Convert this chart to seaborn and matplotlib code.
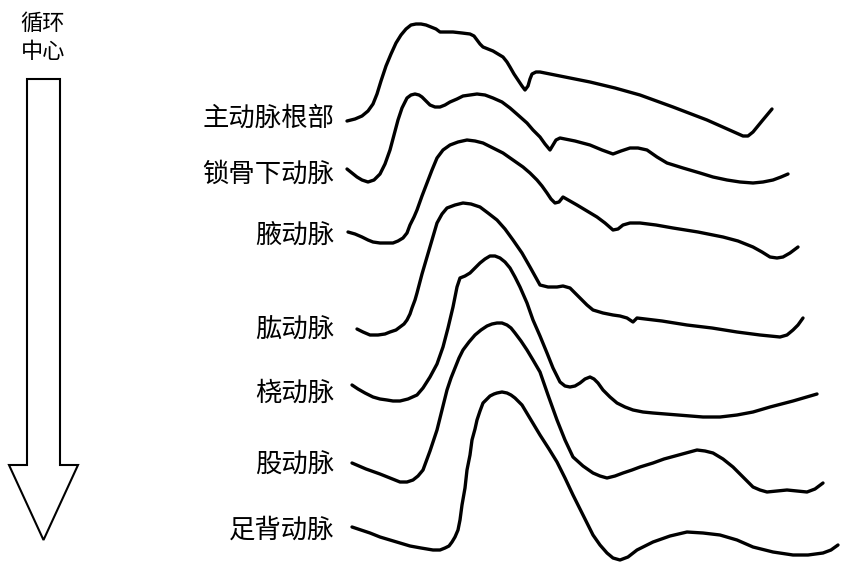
import pandas as pd
import matplotlib.pyplot as plt
import matplotlib.patches as mpatches
import seaborn as sns

# traced pulse waveforms (x, y in picture pixels, y grows downward)
aorta_x = [347, 355, 362, 368, 373, 377, 381, 386, 391, 396, 401, 406, 411, 416, 421, 426, 431, 436, 440, 447, 453, 462, 470, 474, 477, 480, 483, 488, 493, 498, 503, 507, 510, 514, 518, 522, 525, 528, 530, 532, 536, 540, 565, 590, 615, 640, 673, 707, 725, 743, 748, 753, 762, 772]
aorta_y = [121, 119, 116, 111, 104, 94, 81, 66, 54, 43, 35, 29, 25, 24, 24, 25, 27, 29, 32, 32, 32, 33, 34, 36, 40, 44, 47, 49, 51, 54, 57, 62, 67, 74, 80, 86, 90, 86, 79, 74, 72, 72, 77, 82, 88, 95, 107, 120, 128, 136, 136, 132, 121, 109]

subclavian_x = [347, 352, 357, 362, 368, 374, 380, 385, 390, 394, 398, 402, 407, 411, 415, 419, 422, 426, 430, 435, 440, 445, 450, 457, 463, 470, 477, 485, 493, 502, 510, 518, 527, 533, 540, 545, 550, 553, 556, 560, 575, 590, 602, 613, 621, 630, 638, 647, 657, 667, 683, 700, 713, 727, 740, 753, 763, 773, 781, 788]
subclavian_y = [169, 173, 177, 180, 182, 180, 174, 164, 150, 135, 120, 108, 98, 95, 94, 95, 97, 101, 105, 107, 107, 105, 102, 99, 96, 95, 94, 95, 98, 102, 108, 115, 123, 130, 137, 144, 150, 145, 140, 138, 141, 145, 150, 154, 151, 148, 148, 150, 157, 163, 168, 173, 177, 180, 182, 183, 182, 180, 177, 174]

axillary_x = [348, 355, 362, 368, 373, 380, 387, 393, 398, 403, 407, 410, 414, 417, 422, 427, 432, 437, 443, 450, 458, 467, 475, 483, 493, 503, 513, 523, 530, 537, 542, 547, 551, 555, 559, 563, 570, 577, 587, 597, 605, 613, 618, 623, 630, 640, 656, 673, 698, 723, 738, 753, 762, 770, 777, 783, 790, 798]
axillary_y = [232, 234, 237, 240, 242, 243, 243, 243, 241, 238, 233, 225, 217, 210, 196, 183, 170, 158, 150, 145, 142, 140, 141, 143, 148, 153, 160, 167, 173, 180, 186, 193, 199, 203, 202, 197, 201, 205, 211, 217, 223, 230, 229, 225, 223, 223, 225, 228, 232, 237, 241, 247, 252, 257, 258, 257, 253, 247]

brachial_x = [357, 363, 370, 378, 385, 390, 396, 400, 404, 407, 410, 412, 415, 417, 422, 427, 432, 437, 442, 447, 455, 463, 471, 480, 488, 497, 505, 513, 522, 530, 535, 540, 548, 557, 563, 570, 576, 582, 587, 593, 603, 613, 620, 627, 630, 633, 635, 637, 662, 687, 712, 737, 760, 780, 787, 793, 798, 803]
brachial_y = [329, 332, 335, 335, 334, 332, 330, 327, 324, 320, 314, 308, 300, 293, 274, 257, 240, 223, 214, 208, 205, 203, 204, 207, 213, 220, 229, 240, 253, 267, 276, 285, 287, 287, 286, 288, 294, 300, 305, 310, 313, 315, 316, 318, 320, 322, 320, 318, 321, 325, 328, 332, 335, 337, 335, 330, 325, 318]

radial_x = [352, 358, 365, 373, 380, 387, 393, 400, 408, 417, 423, 430, 437, 443, 448, 453, 455, 457, 459, 460, 465, 470, 475, 480, 485, 490, 495, 500, 505, 510, 515, 520, 527, 533, 540, 547, 553, 560, 565, 570, 575, 580, 585, 590, 594, 598, 603, 610, 617, 625, 633, 643, 653, 678, 703, 720, 737, 753, 770, 793, 817]
radial_y = [385, 389, 393, 397, 399, 400, 401, 401, 399, 395, 388, 377, 364, 347, 328, 307, 297, 287, 281, 278, 276, 273, 268, 263, 259, 256, 256, 258, 262, 268, 277, 287, 303, 320, 336, 353, 368, 382, 386, 387, 386, 383, 379, 377, 379, 383, 390, 397, 403, 407, 410, 412, 413, 415, 417, 417, 415, 412, 407, 401, 394]

femoral_x = [352, 366, 380, 390, 400, 407, 413, 418, 423, 430, 437, 442, 447, 451, 455, 459, 463, 469, 475, 481, 487, 492, 497, 502, 507, 511, 515, 521, 527, 533, 540, 548, 557, 565, 573, 583, 593, 600, 607, 615, 623, 632, 640, 653, 664, 675, 686, 697, 705, 713, 723, 733, 743, 753, 760, 767, 777, 787, 797, 807, 815, 823]
femoral_y = [463, 469, 474, 478, 482, 482, 480, 476, 470, 451, 430, 410, 390, 378, 368, 358, 350, 342, 335, 330, 326, 324, 323, 323, 325, 328, 333, 341, 350, 360, 372, 395, 420, 440, 457, 466, 473, 476, 478, 476, 473, 470, 467, 463, 459, 456, 453, 450, 451, 453, 459, 467, 477, 487, 490, 492, 491, 490, 491, 492, 489, 483]

dorsalis_x = [352, 361, 370, 380, 390, 400, 410, 421, 433, 440, 445, 449, 452, 455, 458, 460, 462, 465, 467, 470, 472, 475, 477, 480, 483, 487, 490, 494, 497, 502, 507, 511, 515, 518, 522, 531, 540, 549, 557, 565, 573, 583, 593, 600, 607, 613, 620, 628, 637, 645, 653, 670, 687, 703, 720, 737, 753, 773, 793, 808, 823, 831, 838]
dorsalis_y = [527, 530, 533, 537, 540, 543, 546, 548, 550, 550, 548, 546, 542, 537, 530, 520, 505, 488, 470, 455, 440, 429, 420, 411, 403, 399, 396, 394, 393, 392, 393, 395, 398, 401, 405, 420, 435, 449, 462, 478, 495, 515, 535, 545, 553, 558, 560, 557, 550, 546, 542, 536, 532, 533, 535, 540, 547, 552, 555, 555, 553, 550, 545]

labels = ['主动脉根部', '锁骨下动脉', '腋动脉', '肱动脉', '桡动脉', '股动脉', '足背动脉']
label_y = [118, 174, 235, 330, 393, 465, 530]

curves = [(aorta_x, aorta_y), (subclavian_x, subclavian_y), (axillary_x, axillary_y),
          (brachial_x, brachial_y), (radial_x, radial_y), (femoral_x, femoral_y),
          (dorsalis_x, dorsalis_y)]

rows = []
for name, (xs, ys) in zip(labels, curves):
    for x, y in zip(xs, ys):
        rows.append({'artery': name, 'x': x, 'y': y})
df = pd.DataFrame(rows)

sns.set_theme(style='white')
plt.rcParams['font.family'] = ['Noto Sans CJK SC', 'DejaVu Sans']

fig = plt.figure(figsize=(8.56, 5.70), dpi=100)
ax = fig.add_axes([0, 0, 1, 1])

sns.lineplot(data=df, x='x', y='y', units='artery', estimator=None, sort=False,
             color='black', linewidth=2.4, ax=ax)
for line in ax.get_lines():
    line.set_solid_joinstyle('round')
    line.set_solid_capstyle('round')

for name, y in zip(labels, label_y):
    ax.text(334, y, name, ha='right', va='center', fontsize=19, color='black')

# "toward circulation centre" arrow
ax.text(43, 23, '循环', ha='center', va='center', fontsize=16, color='black')
ax.text(43, 52, '中心', ha='center', va='center', fontsize=16, color='black')
arrow = mpatches.FancyArrow(43.5, 79, 0, 461, width=33, head_width=69, head_length=75,
                            length_includes_head=True, fill=False, edgecolor='black',
                            linewidth=1.5)
ax.add_patch(arrow)

ax.set_xlim(0, 856)
ax.set_ylim(570, 0)
ax.set_axis_off()

fig.savefig('out.png', dpi=100, facecolor='white')
